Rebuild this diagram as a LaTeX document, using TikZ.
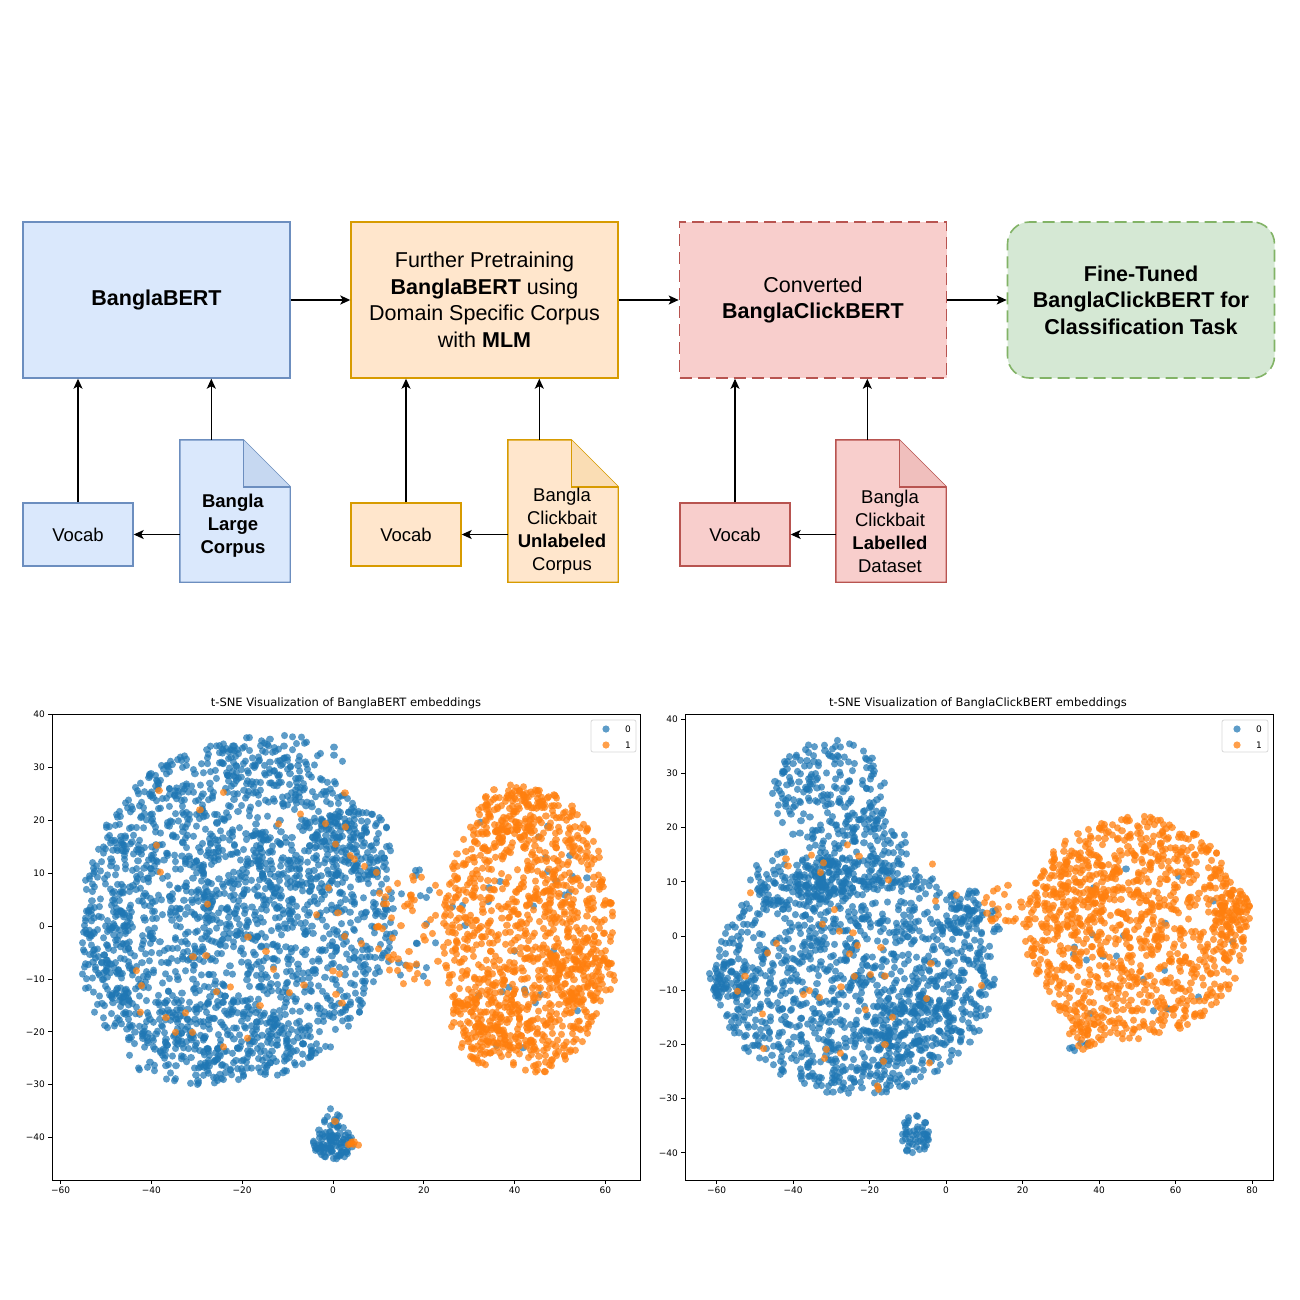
\documentclass[tikz,border=0pt]{standalone}
\usepackage{fontspec}
\setmainfont{Liberation Sans}
\newfontfamily\plotfont{DejaVu Sans}
\usetikzlibrary{arrows.meta}
\definecolor{bfill}{HTML}{DAE8FC}\definecolor{bdraw}{HTML}{6C8EBF}
\definecolor{ofill}{HTML}{FFE6CC}\definecolor{odraw}{HTML}{D79B00}
\definecolor{rfill}{HTML}{F8CECC}\definecolor{rdraw}{HTML}{B85450}
\definecolor{gfill}{HTML}{D5E8D4}\definecolor{gdraw}{HTML}{82B366}
\definecolor{tblue}{HTML}{1F77B4}\definecolor{torange}{HTML}{FF7F0E}
\colorlet{bfold}{bfill!82!bdraw}
\colorlet{ofold}{ofill!88!odraw}
\colorlet{rfold}{rfill!88!rdraw}
\newcommand\scat[6]{%
  \begin{scope}[#6]
  \foreach \k in {1,...,#5}{%
    \pgfmathsetmacro\rr{sqrt(rnd)}%
    \pgfmathsetmacro\aa{360*rnd}%
    \draw ({#1+#3*\rr*cos(\aa)},{#2+#4*\rr*sin(\aa)}) -- ++(0,0.01);
  }
  \end{scope}}
\begin{document}
\begin{tikzpicture}[x=1pt,y=-1pt,
  bigbox/.style={draw,line width=1.4pt,minimum width=267pt,minimum height=156pt,inner sep=0pt,align=center,font=\fontsize{21.5}{26.5}\selectfont},
  vocabbox/.style={draw,line width=1.4pt,minimum width=110pt,minimum height=63pt,inner sep=0pt,font=\fontsize{18.5}{23}\selectfont},
  docnode/.style={minimum width=110pt,minimum height=142pt,inner sep=0pt},
  doctext/.style={align=center,font=\fontsize{18.5}{23}\selectfont},
  arr/.style={-{Stealth[length=10pt,width=9pt,inset=2.5pt]},line width=1.3pt},
  harr/.style={-{Stealth[length=10pt,width=9pt,inset=2.5pt]},line width=1.8pt},
  bdot/.style={draw=tblue,draw opacity=0.72,line width=7.2pt,line cap=round},
  odot/.style={draw=torange,draw opacity=0.75,line width=7.2pt,line cap=round},
  bleg/.style={fill=tblue,fill opacity=0.72},
  oleg/.style={fill=torange,fill opacity=0.75},
  tick/.style={line width=0.8pt},
  ticklab/.style={font=\plotfont\fontsize{9}{10}\selectfont,inner sep=1pt},
  ptitle/.style={font=\plotfont\fontsize{11.5}{12}\selectfont},
  legbox/.style={draw=black!15,fill=white,rounded corners=2pt,line width=0.8pt}]
\useasboundingbox (0,0) rectangle (1300,1300);
\fill[white] (0,0) rectangle (1300,1300);

% ---------- top flow ----------
\node[bigbox,fill=bfill,draw=bdraw] (b1) at (156.5,300) {\textbf{BanglaBERT}};
\node[bigbox,fill=ofill,draw=odraw] (b2) at (484.5,300) {Further Pretraining\\\textbf{BanglaBERT} using\\Domain Specific Corpus\\with \textbf{MLM}};
\node[bigbox,fill=rfill,draw=rdraw,line width=1.6pt,dash pattern=on 12pt off 6pt] (b3) at (813,300) {Converted\\\textbf{BanglaClickBERT}};
\node[bigbox,fill=gfill,draw=gdraw,line width=1.6pt,dash pattern=on 12pt off 6pt,rounded corners=22pt] (b4) at (1141,300) {\textbf{Fine-Tuned}\\\textbf{BanglaClickBERT for}\\\textbf{Classification Task}};

\node[vocabbox,fill=bfill,draw=bdraw] (v1) at (78,534.5) {Vocab};
\node[vocabbox,fill=ofill,draw=odraw] (v2) at (406,534.5) {Vocab};
\node[vocabbox,fill=rfill,draw=rdraw] (v3) at (735,534.5) {Vocab};

\node[docnode] (d1) at (235,511) {};
\node[docnode] (d2) at (563,511) {};
\node[docnode] (d3) at (891,511) {};
\foreach \d/\f/\c in {d1/bfill/bdraw,d2/ofill/odraw,d3/rfill/rdraw}{
  \draw[line width=1.4pt,fill=\f,draw=\c,line join=miter] (\d.south west) -- (\d.north west) -- ([xshift=-47pt]\d.north east) -- ([yshift=-47pt]\d.north east) -- (\d.south east) -- cycle;
}
\foreach \d/\f/\c in {d1/bfold/bdraw,d2/ofold/odraw,d3/rfold/rdraw}{
  \draw[line width=1.4pt,fill=\f,draw=\c,line join=miter] ([xshift=-47pt]\d.north east) -- ([xshift=-47pt,yshift=-47pt]\d.north east) -- ([yshift=-47pt]\d.north east);
}
\node[doctext] (t1) at ([xshift=-2pt,yshift=-15pt]d1.center) {\textbf{Bangla}\\\textbf{Large}\\\textbf{Corpus}};
\node[doctext] (t2) at ([xshift=-1pt,yshift=-20pt]d2.center) {Bangla\\Clickbait\\\textbf{Unlabeled}\\Corpus};
\node[doctext] (t3) at ([xshift=-1pt,yshift=-20pt]d3.center) {Bangla\\Clickbait\\\textbf{Labelled}\\Dataset};

\draw[harr] (b1.east) -- (b2.west);
\draw[harr] (b2.east) -- (b3.west);
\draw[harr] (b3.east) -- (b4.west);
\foreach \v/\b/\d in {v1/b1/d1,v2/b2/d2,v3/b3/d3}{
  \draw[arr] (\v.north) -- (\v.north |- \b.south);
  \coordinate (\d top) at ([xshift=31.5pt]\d.north west);
  \draw[arr] (\d top) -- (\d top |- \b.south);
  \draw[arr] (\d.west |- \v.east) -- (\v.east);
}

% ---------- left scatter ----------
\pgfmathsetseed{4217}
\node[ptitle] (lt) at (346,703) {t-SNE Visualization of BanglaBERT embeddings};
% blue
\scat{238}{912}{155}{170}{1650}{bdot}
\scat{352}{845}{40}{38}{120}{bdot}
\scat{205}{1040}{90}{45}{150}{bdot}
\scat{108}{960}{28}{70}{80}{bdot}
\scat{275}{760}{70}{25}{70}{bdot}
\scat{240}{890}{60}{60}{120}{bdot}
\scat{333}{1142}{20}{18}{85}{bdot}
\scat{333}{1125}{9}{18}{15}{bdot}
\scat{405}{925}{40}{60}{25}{bdot}
\scat{525}{930}{80}{140}{30}{bdot}
% orange
\scat{528}{930}{85}{145}{950}{odot}
\scat{512}{815}{35}{30}{90}{odot}
\scat{580}{975}{35}{30}{90}{odot}
\scat{490}{1025}{40}{40}{110}{odot}
\scat{418}{930}{42}{58}{55}{odot}
\scat{240}{910}{150}{165}{45}{odot}
\scat{352}{1143}{9}{4}{6}{odot}
\scat{335}{1122}{1}{1}{1}{odot}

\draw[line width=0.9pt] (52,714) rectangle (640,1180);
\foreach \v/\t in {-60/−60,-40/−40,-20/−20,0/0,20/20,40/40,60/60}{
  \pgfmathsetmacro\px{333+4.54*\v}
  \draw[tick] (\px,1180) -- (\px,1184);
  \node[ticklab,anchor=north] at (\px,1186) {\t};
}
\foreach \v/\t in {-40/−40,-30/−30,-20/−20,-10/−10,0/0,10/10,20/20,30/30,40/40}{
  \pgfmathsetmacro\py{926-5.29*\v}
  \draw[tick] (52,\py) -- (48,\py);
  \node[ticklab,anchor=east] at (46,\py) {\t};
}
\draw[legbox] (591,720) rectangle (636,752);
\fill[bleg] (606,729) circle[radius=3.6pt];
\fill[oleg] (606,745) circle[radius=3.6pt];
\node[ticklab] at (628,729) {0};
\node[ticklab] at (628,745) {1};

% ---------- right scatter ----------
\node[ptitle] (rt) at (978,703) {t-SNE Visualization of BanglaClickBERT embeddings};
% blue
\scat{855}{975}{140}{120}{1200}{bdot}
\scat{830}{795}{58}{55}{200}{bdot}
\scat{860}{855}{55}{40}{110}{bdot}
\scat{790}{880}{45}{30}{70}{bdot}
\scat{825}{880}{30}{25}{70}{bdot}
\scat{728}{980}{22}{20}{45}{bdot}
\scat{910}{1025}{45}{40}{110}{bdot}
\scat{975}{930}{25}{40}{60}{bdot}
\scat{915}{1135}{15}{20}{50}{bdot}
\scat{1135}{928}{105}{105}{20}{bdot}
\scat{1075}{1045}{15}{6}{6}{bdot}
% orange
\scat{1135}{928}{112}{112}{950}{odot}
\scat{1232}{912}{18}{25}{60}{odot}
\scat{1075}{885}{40}{40}{90}{odot}
\scat{1087}{1035}{18}{15}{30}{odot}
\scat{1003}{905}{20}{22}{20}{odot}
\scat{855}{960}{135}{135}{45}{odot}

\draw[line width=0.9pt] (685,714) rectangle (1273,1180);
\foreach \v/\t in {-60/−60,-40/−40,-20/−20,0/0,20/20,40/40,60/60,80/80}{
  \pgfmathsetmacro\px{946+3.825*\v}
  \draw[tick] (\px,1180) -- (\px,1184);
  \node[ticklab,anchor=north] at (\px,1186) {\t};
}
\foreach \v/\t in {-40/−40,-30/−30,-20/−20,-10/−10,0/0,10/10,20/20,30/30,40/40}{
  \pgfmathsetmacro\py{936-5.42*\v}
  \draw[tick] (685,\py) -- (681,\py);
  \node[ticklab,anchor=east] at (679,\py) {\t};
}
\draw[legbox] (1222,720) rectangle (1268,752);
\fill[bleg] (1237,729) circle[radius=3.6pt];
\fill[oleg] (1237,745) circle[radius=3.6pt];
\node[ticklab] at (1259,729) {0};
\node[ticklab] at (1259,745) {1};
\end{tikzpicture}
\end{document}
